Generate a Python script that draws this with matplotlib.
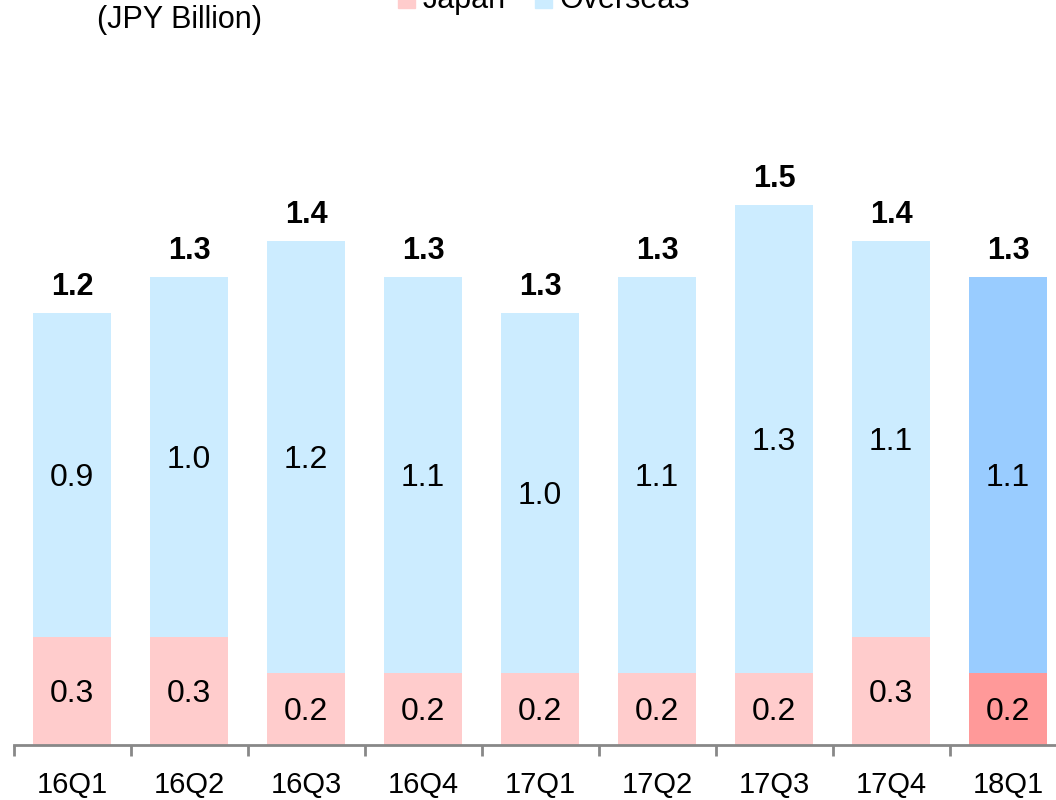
import numpy as np
import matplotlib.pyplot as plt
from matplotlib.patches import Patch

plt.rcParams['font.family'] = ['Liberation Sans', 'DejaVu Sans']

quarters = ['16Q1', '16Q2', '16Q3', '16Q4', '17Q1', '17Q2', '17Q3', '17Q4', '18Q1']
japan = [0.3, 0.3, 0.2, 0.2, 0.2, 0.2, 0.2, 0.3, 0.2]
overseas = [0.9, 1.0, 1.2, 1.1, 1.0, 1.1, 1.3, 1.1, 1.1]
japan_lbl = ['0.3', '0.3', '0.2', '0.2', '0.2', '0.2', '0.2', '0.3', '0.2']
overseas_lbl = ['0.9', '1.0', '1.2', '1.1', '1.0', '1.1', '1.3', '1.1', '1.1']
total_lbl = ['1.2', '1.3', '1.4', '1.3', '1.3', '1.3', '1.5', '1.4', '1.3']

jp_light, jp_dark = '#FFCCCC', '#FF9999'
ov_light, ov_dark = '#CCECFF', '#99CCFF'

fig = plt.figure(figsize=(10.56, 8), dpi=100)
ax = fig.add_axes([13.5/1056, 55/800, 1053/1056, 720/800])

x = np.arange(len(quarters))
n = len(quarters)
jc = [jp_light]*(n-1) + [jp_dark]
oc = [ov_light]*(n-1) + [ov_dark]
w = 0.667
ax.bar(x, japan, w, color=jc)
ax.bar(x, overseas, w, bottom=japan, color=oc)

fs = 22
for i in range(n):
    ax.text(x[i], japan[i]/2, japan_lbl[i], ha='center', va='center_baseline', fontsize=23)
    ax.text(x[i], japan[i] + overseas[i]/2, overseas_lbl[i], ha='center', va='center_baseline', fontsize=23)
    ax.annotate(total_lbl[i], (x[i], japan[i] + overseas[i]), xytext=(0, 13), textcoords='offset points',
                ha='center', va='baseline', fontsize=fs, fontweight='bold')

ax.set_xlim(-0.5, n - 0.5)
ax.set_ylim(0, 2.0)
for s in ['top', 'right', 'left']:
    ax.spines[s].set_visible(False)
ax.spines['bottom'].set_color('#888888')
ax.spines['bottom'].set_linewidth(2)
ax.set_yticks([])
ax.set_xticks(x)
ax.set_xticklabels(quarters, fontsize=21)
ax.tick_params(axis='x', which='major', length=0, pad=19)
ax.set_xticks(np.arange(-0.5, n, 1.0), minor=True)
ax.tick_params(axis='x', which='minor', length=8, width=2, color='#888888')

fig.text(97/1056, 1 - 20/800, '(JPY Billion)', fontsize=fs, va='center', ha='left')

handles = [Patch(color=jp_light, label='Japan'), Patch(color=ov_light, label='Overseas')]
fig.legend(handles=handles, loc='center', bbox_to_anchor=(544/1056, 1 - 0/800), ncol=2,
           frameon=False, fontsize=fs, handlelength=0.55, handleheight=0.7,
           handletextpad=0.25, columnspacing=0.95, borderpad=0)

fig.savefig('out.png', dpi=100)
